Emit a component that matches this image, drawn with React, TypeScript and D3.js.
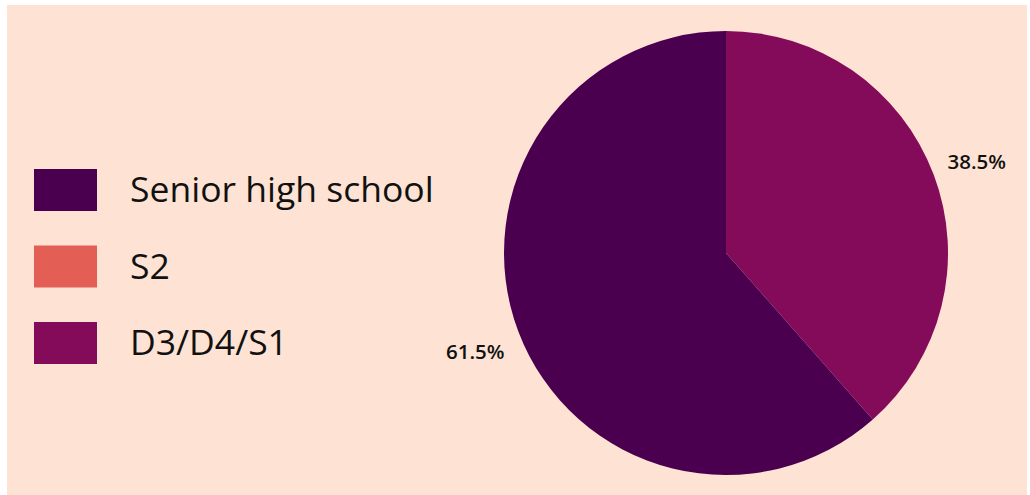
import React, { useEffect, useRef } from "react";
import * as d3 from "d3";

const categories = ["Senior high school", "S2", "D3/D4/S1"];
const values = [61.5, 0, 38.5];
const colors = ["#4B004F", "#E35E55", "#840B5A"];
const pieOrder = ["D3/D4/S1", "Senior high school"];

export default function App() {
  const ref = useRef<SVGSVGElement>(null);
  useEffect(() => {
    const svg = d3.select(ref.current);
    svg.selectAll("*").remove();
    svg.append("rect").attr("x", 7).attr("y", 5).attr("width", 1020).attr("height", 490).attr("fill", "#FEE3D4");

    const color = d3.scaleOrdinal<string, string>().domain(categories).range(colors);
    const data = pieOrder.map((c) => ({ c, v: values[categories.indexOf(c)] }));
    const pie = d3.pie<{ c: string; v: number }>().value((d) => d.v).sort(null);
    const arcs = pie(data);
    const r = 222;
    const arc = d3.arc<any>().innerRadius(0).outerRadius(r);
    const lab = d3.arc<any>().innerRadius(268).outerRadius(268);
    const g = svg.append("g").attr("transform", "translate(726,253)");
    g.selectAll("path").data(arcs).enter().append("path")
      .attr("d", arc).attr("fill", (d) => color(d.data.c));
    g.selectAll("text").data(arcs).enter().append("text")
      .attr("transform", (d) => { const [x, y] = lab.centroid(d); return `translate(${x},${y + 4})`; })
      .attr("text-anchor", "middle").attr("dy", "0.35em")
      .attr("font-family", "Open Sans").attr("font-weight", 600).attr("font-size", 20.5)
      .attr("fill", "#111")
      .text((d) => d.data.v.toFixed(1) + "%");

    const y = d3.scalePoint<string>().domain(categories).range([190, 343]);
    const lg = svg.append("g");
    categories.forEach((c) => {
      lg.append("rect").attr("x", 34).attr("y", y(c)! - 21).attr("width", 63).attr("height", 42).attr("fill", color(c));
      lg.append("text").attr("x", 130).attr("y", y(c)!).attr("dy", "0.35em")
        .attr("font-family", "Open Sans").attr("font-size", 35.5).attr("fill", "#111").text(c);
    });
  }, []);
  return (
    <svg ref={ref} width={1030} height={495} style={{ position: "absolute", left: 0, top: 0, background: "#fff" }} />
  );
}
